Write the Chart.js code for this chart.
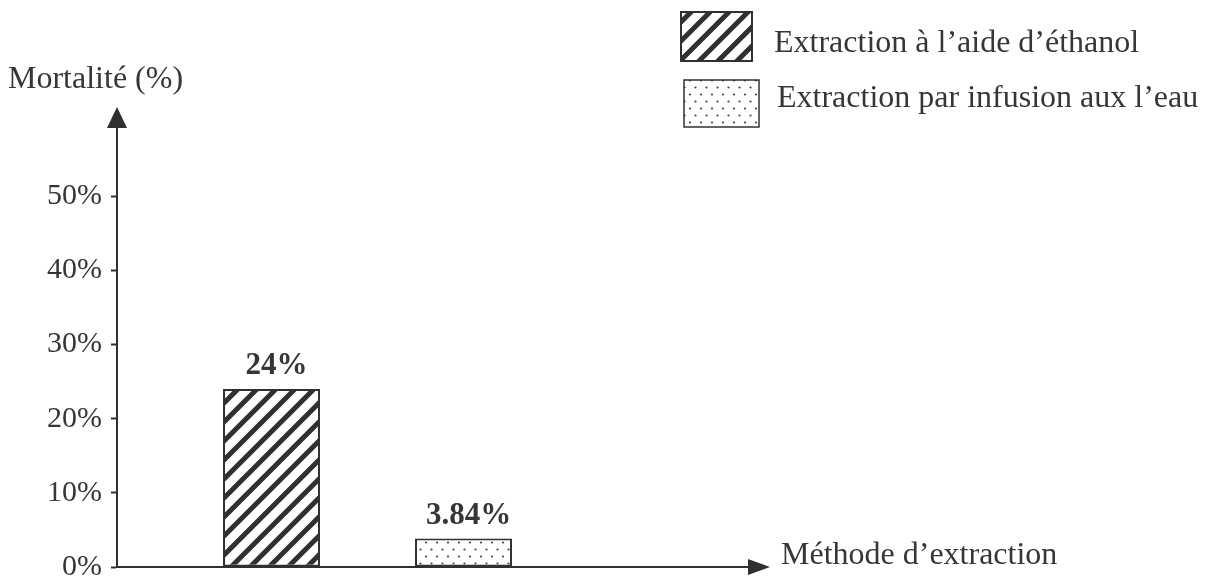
<!DOCTYPE html>
<html>
<head>
<meta charset="utf-8">
<script src="https://cdn.jsdelivr.net/npm/chart.js@4"></script>
<style>
  html, body { margin: 0; padding: 0; background: #fff; }
  #wrap { width: 1208px; height: 580px; }
</style>
</head>
<body>
<div id="wrap"><canvas id="c" width="1208" height="580"></canvas></div>
<script>
// Values
const categories = ['Méthode d’extraction'];
const methods = ['Extraction à l’aide d’éthanol', 'Extraction par infusion aux l’eau'];
const mortality = [24, 3.84];
const yAxisTitle = 'Mortalité (%)';
const xAxisTitle = 'Méthode d’extraction';

const INK = '#303030';
const TEXT = '#363636';
const SERIF = '"Liberation Serif", "DejaVu Serif", serif';

const canvas = document.getElementById('c');
const ctx = canvas.getContext('2d');

// Diagonal hatching (/) fill
function hatchFill() {
  const s = 19;
  const t = document.createElement('canvas');
  t.width = s; t.height = s;
  const g = t.getContext('2d');
  g.fillStyle = '#fff';
  g.fillRect(0, 0, s, s);
  g.strokeStyle = INK;
  g.lineWidth = 5;
  g.beginPath();
  g.moveTo(-s, s); g.lineTo(s, -s);
  g.moveTo(0, s); g.lineTo(s, 0);
  g.moveTo(0, 2 * s); g.lineTo(2 * s, 0);
  g.stroke();
  return ctx.createPattern(t, 'repeat');
}

// Staggered dot fill
function dotFill() {
  const w = 11, h = 14;
  const t = document.createElement('canvas');
  t.width = w; t.height = h;
  const g = t.getContext('2d');
  g.fillStyle = '#fff';
  g.fillRect(0, 0, w, h);
  g.fillStyle = '#444';
  g.beginPath(); g.arc(2.5, 3.5, 1.1, 0, Math.PI * 2); g.fill();
  g.beginPath(); g.arc(8, 10.5, 1.1, 0, Math.PI * 2); g.fill();
  return ctx.createPattern(t, 'repeat');
}

const fills = [hatchFill(), dotFill()];

// Axis arrows, axis titles, value labels and legend
const decorations = {
  id: 'decorations',
  afterDraw(chart) {
    const c = chart.ctx;
    const a = chart.chartArea;
    c.save();

    // y axis extension + arrowhead
    c.strokeStyle = INK;
    c.fillStyle = INK;
    c.lineWidth = 2;
    c.beginPath();
    c.moveTo(a.left, a.top);
    c.lineTo(a.left, 120);
    c.stroke();
    c.beginPath();
    c.moveTo(a.left, 107);
    c.lineTo(a.left - 10, 128);
    c.lineTo(a.left + 10, 128);
    c.closePath();
    c.fill();

    // x axis line + arrowhead
    c.beginPath();
    c.moveTo(a.left - 1, a.bottom);
    c.lineTo(755, a.bottom);
    c.stroke();
    c.beginPath();
    c.moveTo(770, a.bottom);
    c.lineTo(748, a.bottom - 8);
    c.lineTo(748, a.bottom + 8);
    c.closePath();
    c.fill();

    // axis titles
    c.fillStyle = TEXT;
    c.textBaseline = 'alphabetic';
    c.textAlign = 'left';
    c.font = '32px ' + SERIF;
    c.fillText(yAxisTitle, 8, 88);
    c.fillText(xAxisTitle, 781, 564);

    // value labels above bars
    c.font = 'bold 31px ' + SERIF;
    c.textAlign = 'center';
    chart.data.datasets.forEach((ds, i) => {
      const meta = chart.getDatasetMeta(i);
      meta.data.forEach((bar, j) => {
        c.fillText(String(ds.data[j]) + '%', bar.x + 5, bar.y - 15);
      });
    });

    // legend
    const boxes = [
      { x: 681, y: 12, w: 71, h: 49, tx: 774, ty: 52 },
      { x: 684, y: 80, w: 75, h: 47, tx: 777, ty: 107 }
    ];
    c.textAlign = 'left';
    c.font = '32px ' + SERIF;
    chart.data.datasets.forEach((ds, i) => {
      const b = boxes[i];
      c.fillStyle = ds.backgroundColor;
      c.fillRect(b.x, b.y, b.w, b.h);
      c.strokeStyle = INK;
      c.lineWidth = i === 0 ? 2 : 1.5;
      c.strokeRect(b.x, b.y, b.w, b.h);
      c.fillStyle = TEXT;
      c.fillText(ds.label, b.tx, b.ty);
    });

    c.restore();
  }
};

new Chart(ctx, {
  type: 'bar',
  data: {
    labels: categories,
    datasets: methods.map((m, i) => ({
      label: m,
      data: [mortality[i]],
      backgroundColor: fills[i],
      borderColor: INK,
      borderWidth: 2,
      borderSkipped: false,
      categoryPercentage: 0.7665,
      barPercentage: 0.505
    }))
  },
  options: {
    responsive: false,
    animation: false,
    events: [],
    layout: { padding: { left: 0, top: 122, right: 590, bottom: 13 } },
    plugins: {
      legend: { display: false },
      tooltip: { enabled: false }
    },
    scales: {
      x: {
        display: false
      },
      y: {
        min: 0,
        max: 60,
        ticks: {
          stepSize: 10,
          padding: 9,
          color: TEXT,
          // single-line labels: a small line height keeps the plot area from shrinking
          font: { family: SERIF, size: 30, lineHeight: 0.2 },
          callback: v => v + '%'
        },
        grid: { drawOnChartArea: false, tickLength: 6, color: INK, tickWidth: 2 },
        border: { display: true, color: INK, width: 2 },
        afterBuildTicks(s) { s.ticks = s.ticks.filter(t => t.value <= 50); },
        afterFit(s) { s.width = 117; }
      }
    }
  },
  plugins: [decorations]
});
</script>
</body>
</html>
